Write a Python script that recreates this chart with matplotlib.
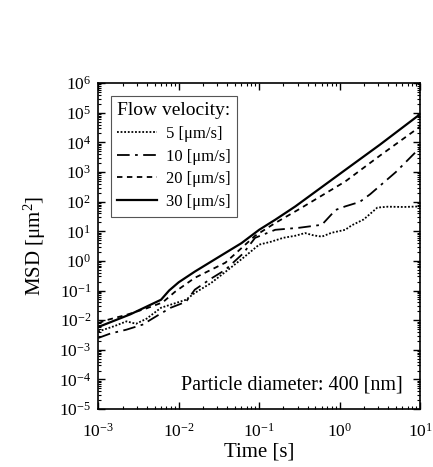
import numpy as np
import matplotlib
matplotlib.use("Agg")
import matplotlib.pyplot as plt
from matplotlib.ticker import LogLocator, NullFormatter, LogFormatterMathtext

plt.rcParams['font.family'] = ['Liberation Serif', 'DejaVu Serif']
plt.rcParams['mathtext.fontset'] = 'custom'
plt.rcParams['mathtext.rm'] = 'Liberation Serif'
plt.rcParams['mathtext.it'] = 'Liberation Serif:italic'

# log10(time [s]) and log10(MSD [um^2])
v5_logt = [-3, -2.8, -2.65, -2.53, -2.4, -2.22, -1.91, -1.8, -1.6, -1.42, -1.2,
           -1.0, -0.85, -0.7, -0.55, -0.43, -0.32, -0.22, -0.1, 0.07, 0.15,
           0.3, 0.47, 0.6, 0.8, 1.0]
v5_logm = [-2.38, -2.2, -2.04, -2.12, -1.95, -1.58, -1.31, -1.08, -0.75, -0.37,
           0.1, 0.55, 0.65, 0.78, 0.85, 0.94, 0.86, 0.82, 0.95, 1.05, 1.2,
           1.4, 1.8, 1.83, 1.82, 1.84]

v10_logt = [-3, -2.85, -2.65, -2.45, -2.25, -2.1, -1.91, -1.8, -1.6, -1.42,
            -1.2, -1.05, -0.8, -0.5, -0.22, -0.05, 0.07, 0.25, 0.38, 0.7, 1.0]
v10_logm = [-2.6, -2.45, -2.32, -2.15, -1.82, -1.58, -1.38, -0.97, -0.6, -0.3,
            0.25, 0.78, 1.05, 1.12, 1.22, 1.72, 1.84, 1.99, 2.25, 3.0, 3.82]

v20_logt = [-3, -2.9, -2.65, -2.4, -2.2, -2.05, -1.8, -1.42, -1.05, -0.8,
            -0.5, 0.07, 0.5, 1.0]
v20_logm = [-2.1, -2.0, -1.82, -1.6, -1.4, -1.05, -0.57, -0.06, 0.85, 1.28,
            1.75, 2.68, 3.55, 4.53]

v30_logt = [-3, -2.6, -2.22, -2.12, -2.0, -1.8, -1.42, -1.22, -1.0, -0.8,
            -0.55, 0.07, 0.5, 1.0]
v30_logm = [-2.23, -1.8, -1.31, -1.0, -0.72, -0.36, 0.27, 0.6, 1.05, 1.39,
            1.84, 3.07, 3.92, 4.95]

labels = ['5 [μm/s]', '10 [μm/s]', '20 [μm/s]', '30 [μm/s]']

fig = plt.figure(figsize=(4.33, 4.67), dpi=100)
ax = fig.add_axes([0.227, 0.124, 0.743, 0.698])

ax.plot(10 ** np.array(v5_logt), 10 ** np.array(v5_logm), color='black',
        lw=1.3, ls=(0, (1, 1)), label=labels[0])
ax.plot(10 ** np.array(v10_logt), 10 ** np.array(v10_logm), color='black',
        lw=1.3, ls=(0, (7, 3, 1.5, 3)), label=labels[1])
ax.plot(10 ** np.array(v20_logt), 10 ** np.array(v20_logm), color='black',
        lw=1.3, ls=(0, (3, 2.5)), label=labels[2])
ax.plot(10 ** np.array(v30_logt), 10 ** np.array(v30_logm), color='black',
        lw=1.6, ls='-', label=labels[3])

ax.set_xscale('log')
ax.set_yscale('log')
ax.set_xlim(1e-3, 1e1)
ax.set_ylim(1e-5, 1e6)

ax.xaxis.set_major_locator(LogLocator(base=10, numticks=20))
ax.yaxis.set_major_locator(LogLocator(base=10, numticks=20))
ax.xaxis.set_minor_locator(LogLocator(base=10, subs=np.arange(2, 10), numticks=20))
ax.yaxis.set_minor_locator(LogLocator(base=10, subs=np.arange(2, 10), numticks=20))
ax.xaxis.set_minor_formatter(NullFormatter())
ax.yaxis.set_minor_formatter(NullFormatter())
ax.xaxis.set_major_formatter(LogFormatterMathtext())
ax.yaxis.set_major_formatter(LogFormatterMathtext())

ax.tick_params(which='both', direction='in', top=True, right=True, labelsize=12.5)
ax.tick_params(which='major', length=5, width=1)
ax.tick_params(which='minor', length=2.5, width=0.8)
ax.tick_params(axis='x', pad=10)
ax.tick_params(axis='y', pad=5)
for s in ax.spines.values():
    s.set_linewidth(1.2)

ax.set_xlabel('Time [s]', fontsize=15, labelpad=1)
ax.set_ylabel(r'MSD [μm$^2$]', fontsize=15, labelpad=8)

leg = ax.legend(loc='upper left', title='Flow velocity:', fontsize=12,
                title_fontsize=14, fancybox=False, edgecolor='#555555',
                framealpha=1, handlelength=2.4, borderaxespad=0.75,
                labelspacing=0.4, handletextpad=0.5, borderpad=0.4)
leg._legend_box.align = 'left'
leg.get_frame().set_linewidth(0.8)

ax.text(0.945, 0.075, 'Particle diameter: 400 [nm]', transform=ax.transAxes,
        ha='right', va='center', fontsize=14.5)

fig.savefig('out.png', dpi=100)
